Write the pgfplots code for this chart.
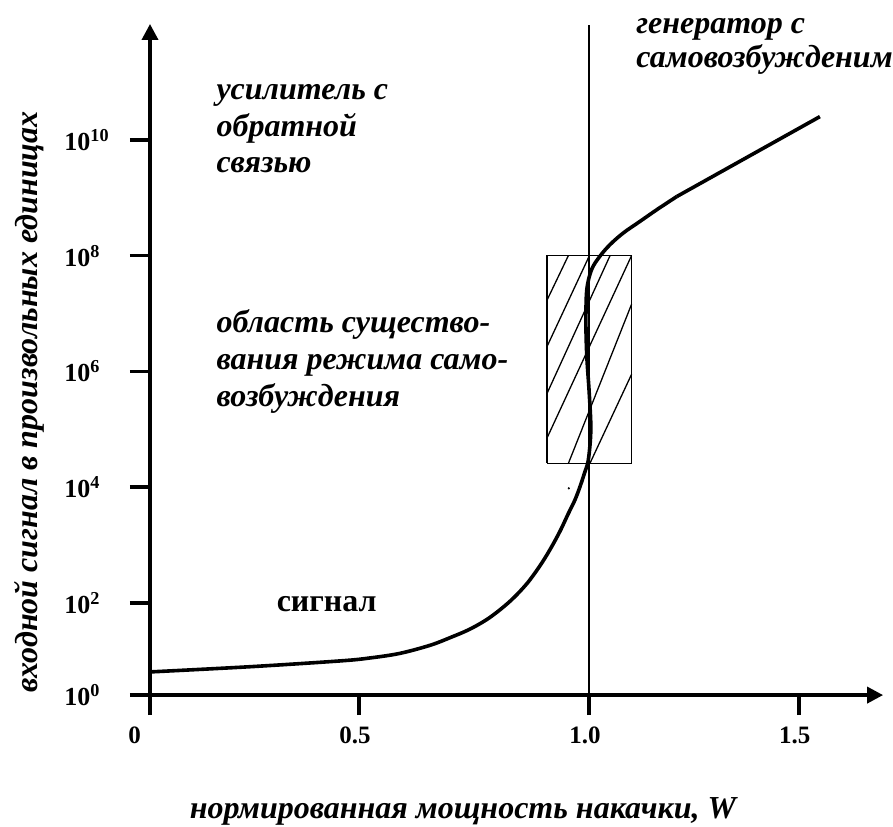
\documentclass[border=0pt]{standalone}
\usepackage{fontspec}
\setmainfont{Liberation Serif}
\usepackage{pgfplots}
\pgfplotsset{compat=1.18}
\usetikzlibrary{arrows.meta}

\newcommand{\lbl}{\bfseries\itshape\fontsize{32}{38}\selectfont}
\newcommand{\ylab}[1]{\makebox[62pt][l]{10\textsuperscript{#1}}}

\begin{document}
\begin{tikzpicture}
\begin{axis}[
  scale only axis,
  width=733pt, height=671pt,
  xmin=0, xmax=1.67,
  ymin=0.41, ymax=12,
  enlargelimits=false,
  axis lines=left,
  clip=false,
  axis line style={line width=3.6pt, -{Triangle[length=16pt,width=16pt]}},
  tick align=outside,
  major tick length=20pt,
  tick style={line width=3.6pt, black},
  xtick={0,0.476,1,1.478},
  xticklabels={\makebox[0pt][r]{0\hspace{5pt}},0.5,1.0,1.5},
  ytick={0.41,2,4,6,8,10},
  yticklabels={\ylab{0},\ylab{2},\ylab{4},\ylab{6},\ylab{8},\ylab{10}},
  xticklabel style={font=\bfseries\fontsize{25}{25}\selectfont, xshift=-4pt, yshift=-8pt},
  yticklabel style={font=\bfseries\fontsize{26}{26}\selectfont},
  unbounded coords=jump,
]
% boundary of the drawing
\coordinate (bbA) at (axis cs:-0.3417,12.414);
\coordinate (bbB) at (axis cs:1.6925,-1.862);

% threshold W = 1
\addplot[line width=2.2pt, black] coordinates {(1,0.41) (1,11.98)};

% region of self-excitation
\addplot[line width=1.8pt, black] coordinates {
  (0.905,4.41) (1.097,4.41) (1.097,8.0) (0.905,8.0) (0.905,4.41)};
\addplot[line width=1.3pt, black] coordinates {
  (0.953,8.0) (0.905,7.24)
  (nan,nan)
  (1.001,8.0) (0.905,6.44)
  (nan,nan)
  (1.048,8.0) (0.905,5.63)
  (nan,nan)
  (1.097,8.0) (0.905,4.86)
  (nan,nan)
  (1.097,7.16) (0.953,4.41)
  (nan,nan)
  (1.097,5.95) (1.002,4.41)};

% signal curve
\addplot[line width=3.6pt, black, smooth, tension=0.55] coordinates {
  (0,0.81) (0.228,0.90) (0.433,1.00) (0.500,1.05) (0.569,1.13)
  (0.638,1.27) (0.683,1.40) (0.729,1.55) (0.774,1.75) (0.820,2.03)
  (0.858,2.33) (0.888,2.64) (0.911,2.92) (0.934,3.24) (0.952,3.53)
  (0.968,3.78) (0.980,4.02) (0.990,4.25) (0.998,4.45) (1.003,4.80)
  (1.004,5.12) (1.000,5.69) (0.995,6.26) (0.993,6.84) (0.995,7.41)
  (1.006,7.76) (1.025,7.99) (1.048,8.19) (1.078,8.39) (1.116,8.59)
  (1.154,8.79) (1.200,9.02)};
\addplot[line width=3.6pt, black] coordinates {(1.200,9.02) (1.526,10.40)};
\addplot[only marks, mark=*, mark size=0.9pt, black] coordinates {(0.954,3.98)};

% annotations
\node[anchor=base west, font=\lbl] at (axis cs:0.1435,10.69) {усилитель с};
\node[anchor=base west, font=\lbl] at (axis cs:0.1435,10.05) {обратной};
\node[anchor=base west, font=\lbl] at (axis cs:0.1435,9.43) {связью};

\node[anchor=base west, font=\lbl] at (axis cs:1.100,11.84) {генератор с};
\node[anchor=base west, font=\lbl] at (axis cs:1.100,11.24) {самовозбужденим};

\node[anchor=base west, font=\lbl] at (axis cs:0.1435,6.67) {область существо-};
\node[anchor=base west, font=\lbl] at (axis cs:0.1435,6.03) {вания режима само-};
\node[anchor=base west, font=\lbl] at (axis cs:0.1435,5.40) {возбуждения};

\node[anchor=base, font=\bfseries\fontsize{32}{38}\selectfont] at (axis cs:0.4025,1.845) {сигнал};

% axis titles
\node[anchor=base, rotate=90, font=\lbl] at (axis cs:-0.257,5.47)
  {входной сигнал в произвольных единицах};
\node[anchor=base, font=\lbl] at (axis cs:0.713,-1.724)
  {нормированная мощность накачки, W};
\end{axis}
\pgfresetboundingbox
\useasboundingbox (bbA) rectangle (bbB);
\end{tikzpicture}
\end{document}
